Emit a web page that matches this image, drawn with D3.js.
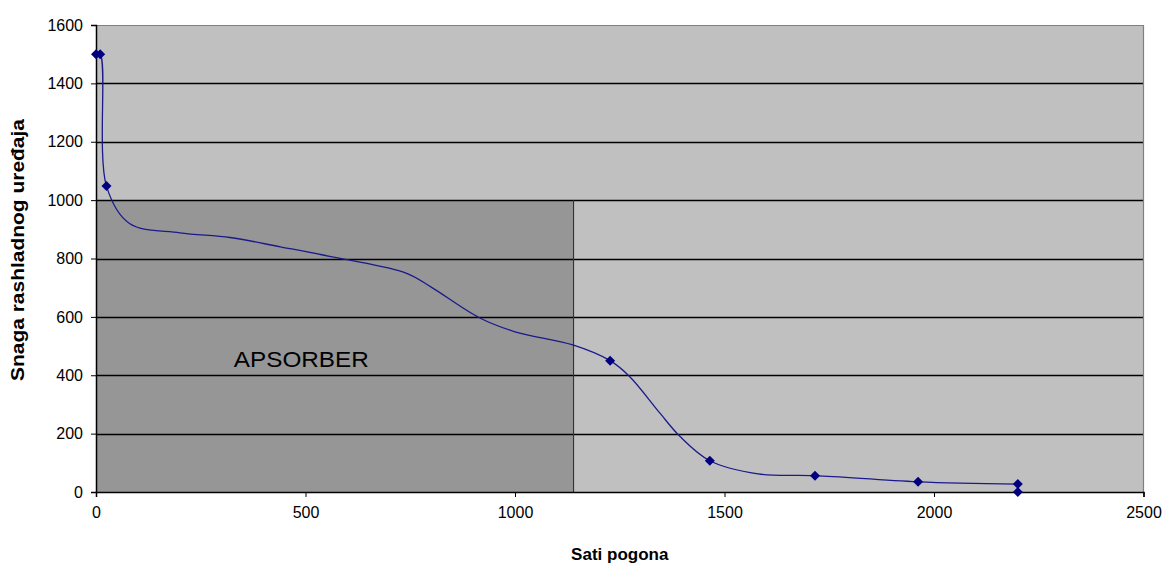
<!DOCTYPE html>
<html>
<head>
<meta charset="utf-8">
<script src="https://d3js.org/d3.v7.min.js"></script>
<style>
  body { margin: 0; background: #fff; }
  text { font-family: "Liberation Sans", Arial, sans-serif; }
</style>
</head>
<body>
<script>
// smooth line through these points (hours, power)
var curveHours = [0, 10, 25, 80, 200, 320, 440, 580, 740, 800, 915, 1000, 1138, 1227, 1274, 1346, 1394, 1465, 1580, 1716, 1962, 2200];
var curvePower = [1500, 1500, 1048, 920, 888, 872, 840, 801, 750, 702, 597, 549, 504, 450, 395, 270, 190, 107, 62, 56, 35, 27];
// visible markers
var markerHours = [0, 10, 25, 1227, 1465, 1716, 1962, 2200, 2200];
var markerPower = [1500, 1500, 1048, 450, 107, 56, 35, 27, 0];
// shaded absorber zone
var absorberEnd = 1138, absorberTop = 1000;
var xTicks = [0, 500, 1000, 1500, 2000, 2500];
var yTicks = [0, 200, 400, 600, 800, 1000, 1200, 1400, 1600];

var W = 1164, H = 564;
var pL = 96, pR = 1143.5, pT = 25, pB = 492;

var svg = d3.select("body").append("svg")
  .attr("width", W).attr("height", H);

var x = d3.scaleLinear().domain([0, 2500]).range([pL, pR]);
var y = d3.scaleLinear().domain([0, 1600]).range([pB, pT]);

// plot background
svg.append("rect")
  .attr("x", pL).attr("y", pT)
  .attr("width", pR - pL).attr("height", pB - pT)
  .attr("fill", "#c0c0c0");

// absorber zone
svg.append("rect")
  .attr("x", x(0)).attr("y", y(absorberTop))
  .attr("width", x(absorberEnd) - x(0)).attr("height", y(0) - y(absorberTop))
  .attr("fill", "#969696");

// grid
svg.append("g").selectAll("line")
  .data(yTicks.filter(function(d) { return d > 0 && d < 1600; }))
  .enter().append("line")
  .attr("x1", pL).attr("x2", pR)
  .attr("y1", function(d) { return Math.round(y(d)) + 0.5; })
  .attr("y2", function(d) { return Math.round(y(d)) + 0.5; })
  .attr("stroke", "#000").attr("stroke-width", 1.3);

// top / right border
svg.append("path")
  .attr("d", "M" + pL + "," + (pT + 0.5) + "H" + pR + "V" + pB)
  .attr("fill", "none").attr("stroke", "#808080").attr("stroke-width", 1.2);

// absorber right edge
svg.append("line")
  .attr("x1", Math.round(x(absorberEnd)) + 0.5).attr("x2", Math.round(x(absorberEnd)) + 0.5)
  .attr("y1", y(absorberTop)).attr("y2", y(0))
  .attr("stroke", "#333").attr("stroke-width", 1.2);

svg.append("text")
  .attr("x", x(490)).attr("y", y(428))
  .attr("text-anchor", "middle")
  .attr("font-size", 22)
  .attr("textLength", 135).attr("lengthAdjust", "spacingAndGlyphs")
  .text("APSORBER");

// axes
var yAxis = svg.append("g")
  .attr("transform", "translate(" + pL + ",0)")
  .call(d3.axisLeft(y).tickValues(yTicks).tickSize(5).tickPadding(8).tickFormat(d3.format("d")));
var xAxis = svg.append("g")
  .attr("transform", "translate(0," + pB + ")")
  .call(d3.axisBottom(x).tickValues(xTicks).tickSize(5).tickPadding(10).tickFormat(d3.format("d")));
[yAxis, xAxis].forEach(function(a) {
  a.select(".domain").attr("stroke", "#000").attr("stroke-width", 1.5);
  a.selectAll(".tick line").attr("stroke", "#000");
  a.selectAll("text").attr("font-size", 16).attr("fill", "#000")
    .attr("font-family", "'Liberation Sans', Arial, sans-serif");
});

// line
var pts = curveHours.map(function(h, i) { return [h, curvePower[i]]; });
var line = d3.line()
  .x(function(d) { return x(d[0]); })
  .y(function(d) { return y(d[1]); })
  .curve(d3.curveCatmullRom.alpha(0.5));
svg.append("path")
  .datum(pts)
  .attr("d", line)
  .attr("fill", "none")
  .attr("stroke", "#1a1a8c")
  .attr("stroke-width", 1.3);

// markers
svg.append("g").selectAll("path")
  .data(markerHours.map(function(h, i) { return [h, markerPower[i]]; }))
  .enter().append("path")
  .attr("transform", function(d) { return "translate(" + x(d[0]) + "," + y(d[1]) + ")"; })
  .attr("d", "M0,-5L5,0L0,5L-5,0Z")
  .attr("fill", "#000080");

// titles
svg.append("text")
  .attr("x", (pL + pR) / 2).attr("y", 560)
  .attr("text-anchor", "middle")
  .attr("font-size", 17).attr("font-weight", "bold")
  .text("Sati pogona");

svg.append("text")
  .attr("transform", "translate(24,250) rotate(-90)")
  .attr("text-anchor", "middle")
  .attr("font-size", 18).attr("font-weight", "bold")
  .attr("textLength", 262).attr("lengthAdjust", "spacingAndGlyphs")
  .text("Snaga rashladnog uređaja");
</script>
</body>
</html>
